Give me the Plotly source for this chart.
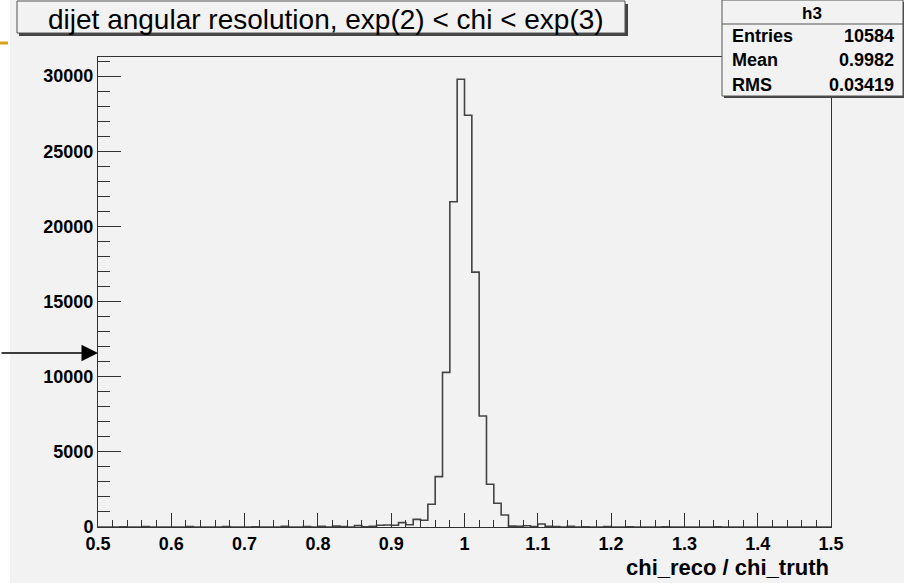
import plotly.graph_objects as go

# ---------------- data ----------------
bin_low = 0.5
bin_width = 0.01
counts = [
    # 0.50 - 0.59
    0, 0, 0, 20, 0, 0, 30, 0, 0, 0,
    # 0.60 - 0.69
    0, 0, 25, 0, 0, 0, 0, 30, 0, 0,
    # 0.70 - 0.79
    0, 20, 0, 0, 0, 40, 0, 0, 30, 0,
    # 0.80 - 0.89
    40, 0, 60, 30, 0, 90, 20, 50, 120, 130,
    # 0.90 - 0.99
    120, 290, 150, 510, 450, 1510, 3350, 10290, 21640, 29790,
    # 1.00 - 1.09
    27390, 16960, 7390, 2840, 1580, 800, 60, 40, 80, 30,
    # 1.10 - 1.19
    200, 50, 30, 0, 40, 0, 20, 0, 0, 30,
    # 1.20 - 1.29
    0, 0, 20, 0, 0, 0, 0, 20, 0, 0,
    # 1.30 - 1.39
    0, 0, 0, 0, 20, 0, 0, 0, 0, 0,
    # 1.40 - 1.49
    0, 0, 0, 0, 0, 0, 0, 0, 0, 0,
]
x_tick_vals = [0.5, 0.6, 0.7, 0.8, 0.9, 1.0, 1.1, 1.2, 1.3, 1.4, 1.5]
x_tick_text = ["0.5", "0.6", "0.7", "0.8", "0.9", "1", "1.1", "1.2", "1.3", "1.4", "1.5"]
y_tick_vals = [0, 5000, 10000, 15000, 20000, 25000, 30000]

title_text = "dijet angular resolution, exp(2) < chi < exp(3)"
x_title = "chi_reco / chi_truth"
stats_name = "h3"
stats_labels = ["Entries", "Mean", "RMS"]
stats_values = ["10584", "0.9982", "0.03419"]

# ---------------- geometry ----------------
W, H = 904, 583
L, R, T, B = 98, 831, 57, 527
y_max = 31270


def px(x):
    return (x - L) / (R - L)


def py(y):
    return (B - y) / (B - T)


edges = [bin_low + i * bin_width for i in range(len(counts) + 1)]
xs = edges
ys = counts + [counts[-1]]

FONT = "Liberation Sans"
BG = "#f2f2f2"
LC = "#333333"

fig = go.Figure()
fig.add_trace(go.Scatter(
    x=xs, y=ys, mode="lines", line=dict(shape="hv", color="#444444", width=1.6),
    hoverinfo="skip", showlegend=False,
))

shapes = []
annotations = []

# white strip at left edge
shapes.append(dict(type="rect", xref="paper", yref="paper",
                   x0=px(-5), x1=px(10), y0=py(600), y1=py(-5),
                   fillcolor="white", line=dict(width=0), layer="above"))
# orange accent line
shapes.append(dict(type="line", xref="paper", yref="paper",
                   x0=px(0), x1=px(8), y0=py(43), y1=py(43),
                   line=dict(color="#d9a21b", width=3), layer="above"))

# title box with shadow
shapes.append(dict(type="rect", xref="paper", yref="paper",
                   x0=px(19), x1=px(628), y0=py(36), y1=py(4),
                   fillcolor="#444444", line=dict(width=0), layer="above"))
shapes.append(dict(type="rect", xref="paper", yref="paper",
                   x0=px(17), x1=px(625), y0=py(33), y1=py(1),
                   fillcolor=BG, line=dict(color="#555555", width=1), layer="above"))
annotations.append(dict(xref="paper", yref="paper", x=px(326), y=py(19),
                        text=title_text, showarrow=False,
                        font=dict(family=FONT, size=28, color="black"),
                        xanchor="center", yanchor="middle"))

# stats box with shadow
shapes.append(dict(type="rect", xref="paper", yref="paper",
                   x0=px(724), x1=px(906), y0=py(98), y1=py(2),
                   fillcolor="#444444", line=dict(width=0), layer="above"))
shapes.append(dict(type="rect", xref="paper", yref="paper",
                   x0=px(722), x1=px(903), y0=py(96), y1=py(0),
                   fillcolor=BG, line=dict(color="#555555", width=1), layer="above"))
shapes.append(dict(type="line", xref="paper", yref="paper",
                   x0=px(722), x1=px(903), y0=py(24), y1=py(24),
                   line=dict(color="#555555", width=1), layer="above"))
annotations.append(dict(xref="paper", yref="paper", x=px(812), y=py(13),
                        text=stats_name, showarrow=False,
                        font=dict(family=FONT, size=17, color="black", weight="bold"),
                        xanchor="center", yanchor="middle"))
for i, (lab, val) in enumerate(zip(stats_labels, stats_values)):
    yy = py(36 + 24.5 * i)
    annotations.append(dict(xref="paper", yref="paper", x=px(730), y=yy,
                            text=lab, showarrow=False,
                            font=dict(family=FONT, size=18, color="black", weight="bold"),
                            xanchor="left", yanchor="middle"))
    annotations.append(dict(xref="paper", yref="paper", x=px(896), y=yy,
                            text=val, showarrow=False,
                            font=dict(family=FONT, size=18, color="black", weight="bold"),
                            xanchor="right", yanchor="middle"))

# x axis title (right aligned)
annotations.append(dict(xref="paper", yref="paper", x=1.0, y=py(567),
                        text=x_title, showarrow=False,
                        font=dict(family=FONT, size=22, color="black", weight="bold"),
                        xanchor="right", yanchor="middle"))

# arrow from left edge
annotations.append(dict(xref="paper", yref="paper", x=px(98), y=py(353),
                        ax=-98, ay=0, axref="pixel", ayref="pixel",
                        text="", showarrow=True, arrowhead=2, arrowsize=2.2,
                        arrowwidth=1.5, arrowcolor="black", standoff=0))

fig.update_layout(
    width=W, height=H,
    margin=dict(l=L, r=W - R, t=T, b=H - B, pad=0),
    paper_bgcolor=BG, plot_bgcolor=BG,
    shapes=shapes, annotations=annotations,
    showlegend=False,
    font=dict(family=FONT, color="black"),
)
fig.update_xaxes(
    range=[0.5, 1.5], tickmode="array", tickvals=x_tick_vals, ticktext=x_tick_text,
    ticks="inside", ticklen=14, tickcolor=LC, tickwidth=1,
    minor=dict(ticks="inside", ticklen=7, dtick=0.02, tick0=0.5, tickcolor=LC, tickwidth=1),
    showline=True, linecolor=LC, linewidth=1, mirror=True, showgrid=False, zeroline=False,
    tickfont=dict(family=FONT, size=18, color="black", weight="bold"),
)
fig.update_yaxes(
    range=[0, y_max], tickmode="array", tickvals=y_tick_vals, tickformat="d",
    ticks="inside", ticklen=23, tickcolor=LC, tickwidth=1,
    minor=dict(ticks="inside", ticklen=12, dtick=1000, tick0=0, tickcolor=LC, tickwidth=1),
    showline=True, linecolor=LC, linewidth=1, mirror=True, showgrid=False, zeroline=False,
    tickfont=dict(family=FONT, size=18, color="black", weight="bold"),
)

fig.write_html("out.html", config={"displayModeBar": False},
               post_script="document.body.style.margin='0px';")
